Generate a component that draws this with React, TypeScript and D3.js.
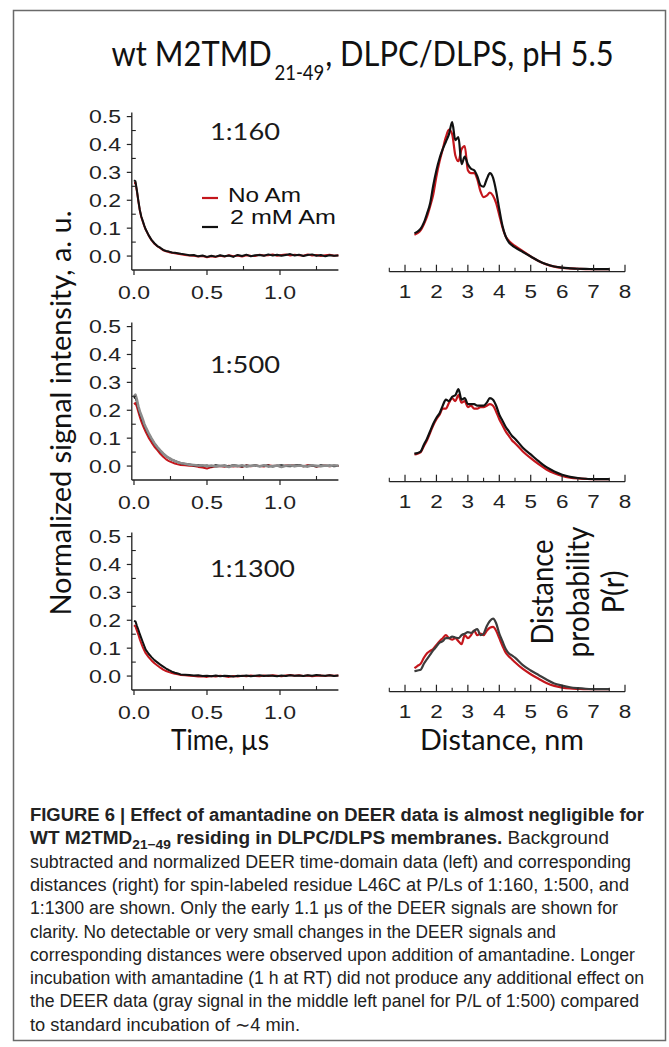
import React from "react";
import * as d3 from "d3";

const W = 669;
const H = 1047;

// ---- time-domain data (left panels) ----
const timeUs = [
  0, 0.01, 0.02, 0.03, 0.04, 0.05, 0.06, 0.07, 0.08, 0.1, 0.12, 0.14, 0.16, 0.18, 0.2, 0.22, 0.24, 0.26, 0.28, 0.3, 0.32,
  0.35, 0.38, 0.41, 0.44, 0.47, 0.5, 0.53, 0.56, 0.59, 0.62, 0.65, 0.68, 0.71, 0.74, 0.77, 0.8, 0.83, 0.86, 0.89, 0.92,
  0.95, 0.98, 1.01, 1.04, 1.07, 1.1, 1.13, 1.16, 1.19, 1.22, 1.25, 1.28, 1.31, 1.34, 1.37, 1.4,
];

const sig160NoAm = [
  0.262, 0.262, 0.232, 0.196, 0.163, 0.14, 0.124, 0.108, 0.095, 0.074, 0.057, 0.044, 0.035, 0.028, 0.021, 0.017, 0.014, 0.012, 0.01, 0.008, 0.006,
  0.004, 0.002, 0.001, -0.002, 0.0, -0.004, -0.001, -0.003, 0.001, -0.002, 0.003, -0.001, 0.002, -0.002, 0.003, 0.001, 0.0, 0.005, 0.002, 0.003,
  0.006, 0.001, 0.004, 0.006, 0.002, 0.005, 0.003, 0.001, 0.006, 0.002, 0.004, 0.0, 0.003, 0.005, 0.001, 0.003,
];
const sig160Am = [
  0.272, 0.268, 0.235, 0.198, 0.165, 0.142, 0.126, 0.11, 0.096, 0.075, 0.058, 0.046, 0.036, 0.03, 0.022, 0.018, 0.016, 0.013, 0.012, 0.01, 0.008,
  0.006, 0.003, 0.004, -0.001, 0.002, -0.003, 0.001, -0.002, 0.003, -0.001, 0.002, -0.003, 0.004, 0.0, 0.005, -0.001, 0.003, 0.004, 0.001, 0.006,
  0.002, 0.005, 0.001, 0.004, 0.007, 0.002, 0.005, 0.0, 0.004, 0.006, 0.001, 0.004, -0.001, 0.003, 0.001, 0.002,
];
const sig500NoAm = [
  0.222, 0.226, 0.212, 0.194, 0.176, 0.16, 0.147, 0.134, 0.123, 0.102, 0.085, 0.069, 0.057, 0.044, 0.033, 0.024, 0.018, 0.013, 0.009, 0.006, 0.004,
  0.003, 0.001, 0.0, -0.003, -0.005, -0.009, -0.004, -0.002, 0.0, -0.003, 0.001, -0.002, 0.0, -0.003, 0.002, -0.001, 0.001, 0.0, -0.002, 0.003,
  0.0, 0.001, -0.002, 0.002, 0.004, 0.0, 0.002, -0.001, 0.003, 0.001, -0.002, 0.0, 0.002, -0.001, 0.001, 0.0,
];
const sig500Am = [
  0.243, 0.248, 0.23, 0.208, 0.19, 0.176, 0.162, 0.148, 0.136, 0.115, 0.097, 0.08, 0.066, 0.054, 0.044, 0.035, 0.028, 0.022, 0.018, 0.014, 0.01,
  0.007, 0.006, 0.002, 0.004, 0.0, 0.002, -0.002, 0.003, 0.0, 0.002, -0.001, 0.003, 0.001, -0.002, 0.002, 0.0, 0.003, -0.001, 0.001, 0.002,
  -0.002, 0.001, 0.003, 0.0, -0.001, 0.002, 0.004, -0.001, 0.001, 0.002, -0.002, 0.003, 0.0, 0.002, -0.001, 0.001,
];
const sig500AmLong = [
  0.25, 0.256, 0.238, 0.214, 0.196, 0.182, 0.168, 0.152, 0.14, 0.118, 0.099, 0.082, 0.068, 0.056, 0.045, 0.036, 0.029, 0.023, 0.018, 0.014, 0.011,
  0.008, 0.005, 0.004, 0.002, 0.003, -0.001, 0.002, -0.002, 0.001, 0.0, -0.003, 0.002, -0.001, 0.003, -0.002, 0.001, 0.002, -0.001, 0.003, -0.002,
  0.0, 0.002, -0.003, 0.001, 0.003, -0.001, 0.002, 0.0, -0.002, 0.003, 0.001, -0.001, 0.002, 0.0, 0.003, 0.001,
];
const sig1300NoAm = [
  0.182, 0.178, 0.163, 0.148, 0.131, 0.117, 0.104, 0.092, 0.082, 0.068, 0.056, 0.046, 0.038, 0.03, 0.023, 0.018, 0.014, 0.011, 0.008, 0.006, 0.004,
  0.003, 0.001, 0.0, -0.002, -0.001, -0.003, 0.0, -0.002, 0.001, -0.001, -0.003, 0.0, -0.002, 0.001, -0.001, 0.002, 0.0, -0.001, 0.002, 0.0,
  0.003, 0.001, -0.001, 0.002, 0.004, 0.001, 0.003, 0.0, 0.002, -0.001, 0.001, 0.002, 0.0, 0.003, 0.001, 0.002,
];
const sig1300Am = [
  0.198, 0.196, 0.18, 0.166, 0.15, 0.136, 0.122, 0.108, 0.095, 0.08, 0.068, 0.057, 0.049, 0.041, 0.034, 0.027, 0.021, 0.016, 0.012, 0.009, 0.006,
  0.005, 0.004, 0.002, 0.003, 0.0, 0.001, -0.001, 0.002, -0.001, 0.001, 0.0, -0.002, 0.001, 0.0, 0.002, -0.001, 0.001, 0.003, 0.0, 0.002,
  0.001, -0.001, 0.002, 0.0, 0.003, 0.001, 0.002, 0.0, 0.003, 0.001, 0.004, 0.002, 0.001, 0.003, 0.0, 0.002,
];

// ---- distance distributions (right panels) ----
const distNm = [
  1.3, 1.4, 1.5, 1.6, 1.7, 1.8, 1.9, 2.0, 2.1, 2.2, 2.3, 2.4, 2.5, 2.6, 2.7, 2.8, 2.9, 3.0, 3.1, 3.2, 3.3, 3.4, 3.5,
  3.6, 3.7, 3.8, 3.9, 4.0, 4.1, 4.2, 4.3, 4.4, 4.5, 4.75, 5.0, 5.25, 5.5, 5.75, 6.0, 6.25, 6.5, 6.75, 7.0, 7.25, 7.5,
];
const pr160NoAm = [
  0.23, 0.24, 0.26, 0.3, 0.35, 0.42, 0.5, 0.62, 0.72, 0.8, 0.88, 0.93, 0.9, 0.76, 0.72, 0.8, 0.82, 0.66, 0.64, 0.64, 0.6, 0.52, 0.48,
  0.49, 0.51, 0.49, 0.44, 0.36, 0.28, 0.22, 0.19, 0.17, 0.155, 0.12, 0.085, 0.055, 0.032, 0.017, 0.009, 0.005, 0.003, 0.001, 0.0, 0.0, 0.0,
];
const pr160Am = [
  0.24, 0.25, 0.27, 0.31, 0.37, 0.44, 0.56, 0.66, 0.74, 0.8, 0.85, 0.9, 0.98, 0.86, 0.88, 0.7, 0.75, 0.7, 0.67, 0.66, 0.62, 0.56, 0.55,
  0.6, 0.64, 0.61, 0.52, 0.4, 0.29, 0.22, 0.18, 0.16, 0.145, 0.115, 0.085, 0.055, 0.033, 0.018, 0.01, 0.006, 0.003, 0.002, 0.001, 0.0, 0.0,
];
const pr500NoAm = [
  0.165, 0.17, 0.18, 0.22, 0.26, 0.31, 0.36, 0.4, 0.43, 0.47, 0.47, 0.51, 0.54, 0.52, 0.56, 0.51, 0.52, 0.48, 0.49, 0.47, 0.47, 0.48, 0.48,
  0.49, 0.5, 0.49, 0.45, 0.4, 0.36, 0.32, 0.29, 0.26, 0.24, 0.185, 0.14, 0.1, 0.065, 0.04, 0.022, 0.011, 0.005, 0.002, 0.0, 0.0, 0.0,
];
const pr500Am = [
  0.17, 0.175, 0.185, 0.23, 0.27, 0.32, 0.37, 0.41, 0.44, 0.49, 0.53, 0.52, 0.55, 0.56, 0.6, 0.53, 0.54, 0.5, 0.5, 0.5, 0.49, 0.49, 0.49,
  0.51, 0.54, 0.53, 0.49, 0.43, 0.39, 0.35, 0.32, 0.29, 0.27, 0.21, 0.165, 0.12, 0.08, 0.052, 0.03, 0.016, 0.008, 0.003, 0.001, 0.0, 0.0,
];
const pr1300NoAm = [
  0.14, 0.155, 0.17, 0.21, 0.24, 0.255, 0.27, 0.295, 0.32, 0.34, 0.36, 0.34, 0.33, 0.34, 0.32, 0.3, 0.36, 0.34, 0.36, 0.39, 0.36, 0.37, 0.36,
  0.39, 0.41, 0.415, 0.39, 0.34, 0.29, 0.245, 0.22, 0.2, 0.18, 0.135, 0.1, 0.07, 0.042, 0.022, 0.011, 0.005, 0.002, 0.0, 0.0, 0.0, 0.0,
];
const pr1300Am = [
  0.12, 0.125, 0.13, 0.17, 0.2, 0.23, 0.26, 0.285, 0.31, 0.32, 0.34, 0.34, 0.35, 0.345, 0.34, 0.36, 0.37, 0.38, 0.375, 0.39, 0.4, 0.36, 0.37,
  0.42, 0.455, 0.47, 0.44, 0.37, 0.32, 0.27, 0.24, 0.225, 0.21, 0.16, 0.125, 0.095, 0.065, 0.038, 0.024, 0.013, 0.007, 0.003, 0.001, 0.0, 0.0,
];

const ratios = ["1:160", "1:500", "1:1300"];
const yTicks = [0, 0.1, 0.2, 0.3, 0.4, 0.5];
const yMinor = [0.05, 0.15, 0.25, 0.35, 0.45];
const tTicks = [0, 0.5, 1.0];
const tMinor = [0.25, 0.75, 1.25];
const rTicks = [1, 2, 3, 4, 5, 6, 7, 8];
const rMinor = [0.5, 1.5, 2.5, 3.5, 4.5, 5.5, 6.5, 7.5];

const RED = "#c4161c";
const BLACK = "#111";
const GRAY = "#8c8c8c";

const NUM = "'Liberation Sans', Arial, sans-serif";
const CAL = "Lato, 'Open Sans', sans-serif";
const CAP = "'Liberation Sans Narrow', 'Liberation Sans', Arial, sans-serif";

const leftSeries = [
  [{ v: sig160NoAm, c: RED, w: 2 }, { v: sig160Am, c: BLACK, w: 2 }],
  [{ v: sig500NoAm, c: RED, w: 2 }, { v: sig500Am, c: BLACK, w: 2 }, { v: sig500AmLong, c: GRAY, w: 2.6 }],
  [{ v: sig1300NoAm, c: RED, w: 2 }, { v: sig1300Am, c: BLACK, w: 2 }],
];
const rightSeries = [
  [{ v: pr160NoAm, c: RED, w: 2.2 }, { v: pr160Am, c: BLACK, w: 2.2 }],
  [{ v: pr500NoAm, c: RED, w: 2.2 }, { v: pr500Am, c: BLACK, w: 2.2 }],
  [{ v: pr1300NoAm, c: RED, w: 2.2 }, { v: pr1300Am, c: "#3c3c3c", w: 2.2 }],
];
// label spots for the P/L ratios: [x, baseline, width]
const ratioPos = [
  [210, 140, 70],
  [210, 373, 70],
  [210, 577, 85],
];

function LeftPanel({ i }: { i: number }) {
  const axisY = 270 + 210 * i;
  const x = d3.scaleLinear().domain([-0.015, 1.4]).range([131.8, 338.4]);
  const y = d3.scaleLinear().domain([-0.05, 0.515]).range([axisY, axisY - 157.6]);
  const line = d3
    .line<[number, number]>()
    .x(d => x(d[0]))
    .y(d => y(d[1]));
  return (
    <g>
      {leftSeries[i].map((s, k) => {
        const pts = timeUs.map((t, j) => [t, s.v[j]] as [number, number]).filter(p => p[1] !== undefined);
        return <path key={k} d={line(pts) || ""} fill="none" stroke={s.c} strokeWidth={s.w} strokeLinejoin="round" />;
      })}
      <line x1={x(-0.015)} x2={x(-0.015)} y1={axisY} y2={y(0.515)} stroke="#222" strokeWidth={1.3} />
      <line x1={x(-0.015)} x2={x(1.4)} y1={axisY} y2={axisY} stroke="#222" strokeWidth={1.3} />
      {yTicks.map(t => (
        <g key={t}>
          <line x1={x(-0.015) - 5} x2={x(-0.015)} y1={y(t)} y2={y(t)} stroke="#222" strokeWidth={1.2} />
          <text x={121} y={y(t) + 6.5} textAnchor="end" fontFamily={NUM} fontSize={18} fill="#222" textLength={32} lengthAdjust="spacingAndGlyphs">
            {t.toFixed(1)}
          </text>
        </g>
      ))}
      {yMinor.map(t => (
        <line key={t} x1={x(-0.015)} x2={x(-0.015) + 4} y1={y(t)} y2={y(t)} stroke="#222" strokeWidth={1.1} />
      ))}
      {tTicks.map(t => (
        <g key={t}>
          <line x1={x(t)} x2={x(t)} y1={axisY} y2={axisY + 5} stroke="#222" strokeWidth={1.2} />
          <text x={x(t)} y={axisY + 29} textAnchor="middle" fontFamily={NUM} fontSize={18} fill="#222" textLength={32} lengthAdjust="spacingAndGlyphs">
            {t.toFixed(1)}
          </text>
        </g>
      ))}
      {tMinor.map(t => (
        <line key={t} x1={x(t)} x2={x(t)} y1={axisY} y2={axisY - 4} stroke="#222" strokeWidth={1.1} />
      ))}
      <text x={ratioPos[i][0]} y={ratioPos[i][1]} fontFamily={CAL} fontSize={24} fill="#1a1a1a" textLength={ratioPos[i][2]} lengthAdjust="spacingAndGlyphs">
        {ratios[i]}
      </text>
    </g>
  );
}

function RightPanel({ i }: { i: number }) {
  const axisY = 271.7 + 210 * i;
  const x = d3.scaleLinear().domain([0.5, 8]).range([389.3, 625]);
  const y = d3.scaleLinear().domain([0, 1]).range([axisY - 2.5, axisY - 152.5]);
  const line = d3
    .line<[number, number]>()
    .x(d => x(d[0]))
    .y(d => y(d[1]))
    .curve(d3.curveMonotoneX);
  return (
    <g>
      {rightSeries[i].map((s, k) => {
        const pts = distNm.map((r, j) => [r, s.v[j]] as [number, number]).filter(p => p[1] !== undefined);
        return <path key={k} d={line(pts) || ""} fill="none" stroke={s.c} strokeWidth={s.w} strokeLinejoin="round" />;
      })}
      <line x1={x(0.5)} x2={x(8)} y1={axisY} y2={axisY} stroke="#222" strokeWidth={1.3} />
      {rTicks.map(t => (
        <g key={t}>
          <line x1={x(t)} x2={x(t)} y1={axisY} y2={axisY - 7} stroke="#222" strokeWidth={1.2} />
          <text x={x(t)} y={axisY + 26} textAnchor="middle" fontFamily={NUM} fontSize={18} fill="#222" textLength={12.5} lengthAdjust="spacingAndGlyphs">
            {t}
          </text>
        </g>
      ))}
      {rMinor.map(t => (
        <line key={t} x1={x(t)} x2={x(t)} y1={axisY} y2={axisY - 4} stroke="#222" strokeWidth={1.1} />
      ))}
    </g>
  );
}

const captionPlain = [
  "subtracted and normalized DEER time-domain data (left) and corresponding",
  "distances (right) for spin-labeled residue L46C at P/Ls of 1:160, 1:500, and",
  "1:1300 are shown. Only the early 1.1 \u03bcs of the DEER signals are shown for",
  "clarity. No detectable or very small changes in the DEER signals and",
  "corresponding distances were observed upon addition of amantadine. Longer",
  "incubation with amantadine (1 h at RT) did not produce any additional effect on",
  "the DEER data (gray signal in the middle left panel for P/L of 1:500) compared",
  "to standard incubation of \u223c4 min.",
];
const captionPlainEnds = [631, 629, 618, 556, 635, 644, 639, 300];

export default function App() {
  const capX = 30;
  const capY0 = 821;
  const capStep = 23.3;
  return (
    <svg width={W} height={H} style={{ position: "absolute", left: 0, top: 0, background: "#fff" }}>
      <rect x={0} y={0} width={W} height={H} fill="#fff" />
      <rect x={13.5} y={10.5} width={652} height={1030} fill="none" stroke="#6a6a6a" strokeWidth={1.5} />

      {/* title, one text with subscript */}
      <text x={111.6} y={66} fontFamily={CAL} fontSize={35} fill="#111" textLength={502} lengthAdjust="spacingAndGlyphs">
        <tspan>wt M2TMD</tspan>
        <tspan fontSize={21} dx={3} dy={14}>
          21-49
        </tspan>
        <tspan dx={1} dy={-14}>, DLPC/DLPS, pH 5.5</tspan>
      </text>

      {[0, 1, 2].map(i => (
        <LeftPanel key={"l" + i} i={i} />
      ))}
      {[0, 1, 2].map(i => (
        <RightPanel key={"r" + i} i={i} />
      ))}

      {/* legend */}
      <line x1={202} x2={218} y1={198} y2={198} stroke={RED} strokeWidth={2.2} />
      <text x={228} y={202} fontFamily={NUM} fontSize={21} fill="#111" textLength={73} lengthAdjust="spacingAndGlyphs">
        No Am
      </text>
      <line x1={202} x2={218} y1={227} y2={227} stroke={BLACK} strokeWidth={2.2} />
      <text x={230} y={224} fontFamily={NUM} fontSize={21} fill="#111" textLength={106} lengthAdjust="spacingAndGlyphs">
        2 mM Am
      </text>

      {/* axis titles */}
      <text
        transform="translate(71,413) rotate(-90)"
        textAnchor="middle"
        fontFamily={CAL}
        fontSize={29}
        fill="#111"
        textLength={405}
        lengthAdjust="spacingAndGlyphs"
      >
        Normalized signal intensity, a. u.
      </text>
      <text x={220} y={750} textAnchor="middle" fontFamily={CAL} fontSize={29} fill="#111" textLength={98} lengthAdjust="spacingAndGlyphs">
        Time, µs
      </text>
      <text x={502} y={750} textAnchor="middle" fontFamily={CAL} fontSize={29} fill="#111" textLength={164} lengthAdjust="spacingAndGlyphs">
        Distance, nm
      </text>
      {[
        ["Distance", 553, 105],
        ["probability", 589, 131],
        ["P(r)", 624, 43],
      ].map(([s, bx, len]) => (
        <text
          key={s as string}
          transform={`translate(${bx},592) rotate(-90)`}
          textAnchor="middle"
          fontFamily={CAL}
          fontSize={30}
          fill="#111"
          textLength={len as number}
          lengthAdjust="spacingAndGlyphs"
        >
          {s}
        </text>
      ))}

      {/* caption */}
      <text x={capX} y={capY0} fontFamily={CAP} fontSize={18} fontWeight="bold" fill="#222" textLength={644 - capX} lengthAdjust="spacingAndGlyphs">
        FIGURE 6 | Effect of amantadine on DEER data is almost negligible for
      </text>
      <text x={capX} y={capY0 + capStep} fontFamily={CAP} fontSize={18} fill="#222" textLength={609 - capX} lengthAdjust="spacingAndGlyphs">
        <tspan fontWeight="bold">WT M2TMD</tspan>
        <tspan fontWeight="bold" fontSize={13} dy={5}>
          21−49
        </tspan>
        <tspan fontWeight="bold" dy={-5}>
          {" residing in DLPC/DLPS membranes."}
        </tspan>
        <tspan>{" Background"}</tspan>
      </text>
      {captionPlain.map((s, k) => (
        <text
          key={k}
          x={capX}
          y={capY0 + capStep * (k + 2)}
          fontFamily={CAP}
          fontSize={18}
          fill="#222"
          textLength={captionPlainEnds[k] - capX}
          lengthAdjust="spacingAndGlyphs"
        >
          {s}
        </text>
      ))}
    </svg>
  );
}
